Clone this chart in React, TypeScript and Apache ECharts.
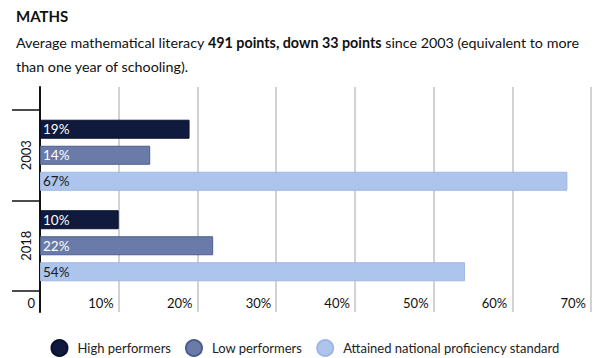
import React, { useEffect, useRef } from "react";
import * as echarts from "echarts";

const years = ["2003", "2018"];
const seriesNames = ["High performers", "Low performers", "Attained national proficiency standard"];
const highPerformers = [19, 10];
const lowPerformers = [14, 22];
const attained = [67, 54];
const colors = ["#0f1a3c", "#6a7aa9", "#adc4ed"];
const borders = ["#0a1230", "#4e5e8c", "#9fb7e3"];
const labelColors = ["#ffffff", "#ffffff", "#1a1a1a"];

const FONT = "Lato, 'Noto Sans', sans-serif";

export default function App() {
  const ref = useRef<HTMLDivElement>(null);
  useEffect(() => {
    if (!ref.current) return;
    const chart = echarts.init(ref.current, undefined, { renderer: "svg" });
    const values = [highPerformers, lowPerformers, attained];
    chart.setOption({
      animation: false,
      textStyle: { fontFamily: FONT },
      title: [
        {
          text: "MATHS",
          left: 11,
          top: 3,
          textStyle: { fontFamily: FONT, fontSize: 15, fontWeight: "bold", color: "#111" },
        },
        {
          text:
            "{n|Average mathematical literacy }{b|491 points, down 33 points}{n| since 2003 (equivalent to more}\n{n|than one year of schooling).}",
          left: 11,
          top: 25,
          textStyle: {
            fontFamily: FONT,
            fontWeight: "normal",
            rich: {
              n: { fontFamily: FONT, fontSize: 14.3, color: "#111", fontWeight: "normal", lineHeight: 24 },
              b: { fontFamily: FONT, fontSize: 14.3, color: "#111", fontWeight: "bold", lineHeight: 24 },
            },
          },
        },
      ],
      legend: {
        data: seriesNames,
        left: "center",
        top: 339,
        padding: 0,
        icon: "circle",
        itemWidth: 16,
        itemHeight: 16,
        itemGap: 14,
        textStyle: { fontFamily: FONT, fontSize: 13, color: "#222", padding: [0, 0, 0, 5] },
      },
      grid: [
        { left: 40, right: 19, top: 110, bottom: 67 },
        { left: 40, right: 19, top: 87, bottom: 46 },
      ],
      xAxis: [
        { gridIndex: 0, type: "value", min: 0, max: 70, interval: 10, show: false },
        {
          gridIndex: 1,
          type: "value",
          min: 0,
          max: 70,
          interval: 10,
          axisLine: { show: false },
          axisTick: { show: false },
          splitLine: { show: true, lineStyle: { color: "#d2d2d2", width: 2 } },
          axisLabel: {
            inside: true,
            align: "right",
            padding: [0, 5, 0, 0],
            margin: 3,
            fontFamily: FONT,
            fontSize: 13,
            color: "#111",
            formatter: (v: number) => (v === 0 ? "0" : v + "%"),
          },
        },
      ],
      yAxis: [
        {
          gridIndex: 0,
          type: "category",
          data: years,
          inverse: true,
          axisLine: { show: false },
          axisTick: { show: true, length: 28, lineStyle: { color: "#111", width: 1.5 } },
          axisLabel: {
            rotate: 90,
            margin: 8,
            fontFamily: FONT,
            fontSize: 13,
            color: "#111",
          },
          splitLine: { show: false },
        },
        {
          gridIndex: 1,
          type: "value",
          min: 0,
          max: 1,
          axisLine: { show: true, lineStyle: { color: "#111", width: 2 } },
          axisTick: { show: false },
          axisLabel: { show: false },
          splitLine: { show: false },
        },
      ],
      series: seriesNames.map((name, i) => ({
        name,
        type: "bar",
        xAxisIndex: 0,
        yAxisIndex: 0,
        data: values[i],
        barWidth: 19,
        barGap: "37%",
        itemStyle: { color: colors[i], borderColor: borders[i], borderWidth: 1 },
        label: {
          show: true,
          position: "insideLeft",
          distance: 3,
          formatter: "{c}%",
          fontFamily: FONT,
          fontSize: 13.5,
          color: labelColors[i],
        },
      })),
    });
    return () => chart.dispose();
  }, []);
  return (
    <div
      ref={ref}
      style={{ position: "absolute", left: 0, top: 0, width: 610, height: 358 }}
    />
  );
}
